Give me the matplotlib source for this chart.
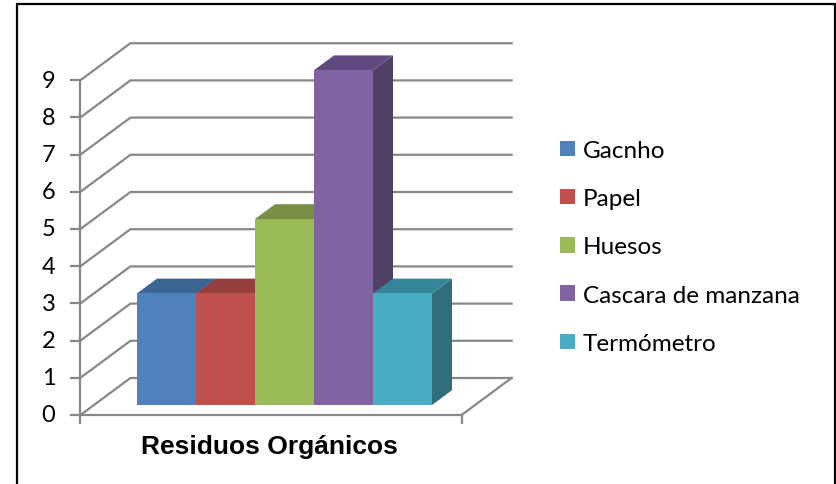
import matplotlib.pyplot as plt
from matplotlib.patches import Polygon, Patch, Rectangle

categories = ['Gacnho', 'Papel', 'Huesos', 'Cascara de manzana', 'Termómetro']
values = [3, 3, 5, 9, 3]
y_ticks = list(range(10))
axis_title = 'Residuos Orgánicos'

front_colors = ['#4F81BD', '#C0504D', '#9BBB59', '#8064A2', '#4BACC6']
top_colors = ['#3C6493', '#943F3D', '#788F45', '#5F4A7F', '#358698']
side_colors = ['#35577F', '#7F3533', '#667A3A', '#514066', '#306E7D']

GRID = '#888888'
PX_X = 59.0     # pixels per category unit
PX_Y = 37.2     # pixels per value unit
DX, DY = 50 / PX_X, 37 / PX_Y   # oblique offset of the full depth
BAR_D0, BAR_D1 = 0.27, 0.67     # bars sit in the middle of the floor
GAP = 0.73


def proj(x, v, d):
    return x + DX * d, v + DY * d


fig = plt.figure(figsize=(8.36, 4.85), dpi=100)
ax = fig.add_axes([0, 0, 1, 1])
ax.set_xlim(-153 / PX_X, (836 - 153) / PX_X)
ax.set_ylim(-(485 - 416) / PX_Y, 416 / PX_Y)
ax.axis('off')

n = len(values)
xl, xr = -0.5 - GAP, n - 0.5 + GAP

# back wall gridlines and floor
for v in y_ticks:
    pts = [proj(xl, v, 0), proj(xl, v, 1), proj(xr, v, 1)]
    ax.plot(*zip(*pts), color=GRID, lw=1.6, zorder=1, solid_joinstyle='miter')
ax.plot(*zip(proj(xr, 0, 0), proj(xr, 0, 1)), color=GRID, lw=1.6, zorder=1)

# front axes
ax.plot(*zip(proj(xl, 0, 0), proj(xr, 0, 0)), color=GRID, lw=1.6, zorder=2)
ax.plot(*zip(proj(xl, 0, 0), proj(xl, max(y_ticks), 0)), color=GRID, lw=1.6, zorder=2)
for v in y_ticks:
    ax.plot([xl - 9 / PX_X, xl], [v, v], color=GRID, lw=1.6, zorder=2)
    ax.text(xl - 25 / PX_X, v, str(v), ha='right', va='center',
            fontsize=17, family='Lato', color='black')
for x in (xl, xr):
    ax.plot([x, x], [0, -8 / PX_Y], color=GRID, lw=1.6, zorder=2)

# 3D columns, drawn left to right so each hides the right side of the previous
for i, val in enumerate(values):
    x0, x1 = i - 0.5, i + 0.5
    front = [proj(x0, 0, BAR_D0), proj(x1, 0, BAR_D0),
             proj(x1, val, BAR_D0), proj(x0, val, BAR_D0)]
    top = [proj(x0, val, BAR_D0), proj(x1, val, BAR_D0),
           proj(x1, val, BAR_D1), proj(x0, val, BAR_D1)]
    side = [proj(x1, 0, BAR_D0), proj(x1, 0, BAR_D1),
            proj(x1, val, BAR_D1), proj(x1, val, BAR_D0)]
    z = 3 + i
    ax.add_patch(Polygon(side, closed=True, fc=side_colors[i], ec='none', zorder=z))
    ax.add_patch(Polygon(top, closed=True, fc=top_colors[i], ec='none', zorder=z))
    ax.add_patch(Polygon(front, closed=True, fc=front_colors[i], ec='none', zorder=z))

handles = [Patch(fc=c, ec='none') for c in front_colors]
fig.legend(handles, categories, loc='center left',
           bbox_to_anchor=(560 / 836, 1 - 248 / 485), frameon=False,
           prop={'family': 'Lato', 'size': 17.5}, handlelength=0.6,
           handleheight=0.6, handletextpad=0.35, labelspacing=1.12,
           borderpad=0, borderaxespad=0)

fig.text(269.5 / 836, 1 - 447 / 485, axis_title, ha='center', va='center',
         fontsize=19, fontweight='bold', family='Liberation Sans')

fig.patches.append(Rectangle((17 / 836, -0.05), (835 - 17) / 836, 1.05 - 5 / 485,
                             transform=fig.transFigure, fill=False, ec='black',
                             lw=1.6, clip_on=False))

fig.savefig('out.png', dpi=100)
